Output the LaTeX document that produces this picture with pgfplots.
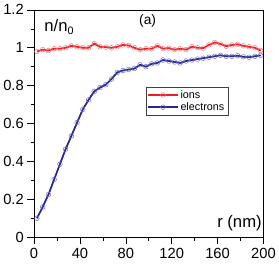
\documentclass[border=0pt]{standalone}
\usepackage{pgfplots}
\pgfplotsset{compat=1.18}
\usepackage{fontspec}
\setmainfont{Liberation Sans}
\definecolor{ionred}{RGB}{235,30,40}
\definecolor{ionmark}{RGB}{245,120,120}
\definecolor{elblue}{RGB}{40,40,145}
\definecolor{elmark}{RGB}{110,110,200}
\pgfplotstableread{
r ni ne
2.5 0.980 0.100
7.5 0.990 0.160
12.5 0.985 0.225
17.5 0.995 0.305
22.5 0.995 0.385
27.5 1.000 0.465
32.5 1.010 0.535
37.5 1.005 0.605
42.5 1.000 0.675
47.5 1.000 0.725
52.5 1.022 0.770
57.5 1.005 0.790
62.5 1.003 0.805
67.5 1.000 0.835
72.5 1.005 0.870
77.5 1.015 0.880
82.5 1.012 0.885
87.5 1.000 0.890
92.5 0.990 0.910
97.5 0.995 0.900
102.5 0.995 0.915
107.5 1.010 0.920
112.5 0.995 0.935
117.5 0.998 0.930
122.5 0.990 0.925
127.5 0.995 0.920
132.5 0.990 0.930
137.5 1.005 0.935
142.5 1.000 0.940
147.5 0.998 0.945
152.5 1.015 0.950
157.5 1.028 0.955
162.5 1.020 0.960
167.5 1.008 0.955
172.5 1.015 0.955
177.5 1.018 0.958
182.5 1.010 0.952
187.5 1.005 0.950
192.5 1.000 0.955
197.5 0.985 0.960
}\datatab
\begin{document}
\begin{tikzpicture}
\begin{axis}[
  scale only axis,
  width=233bp, height=231bp,
  xmin=0, xmax=200, ymin=0, ymax=1.2,
  xtick={0,40,...,200}, minor xtick={20,60,...,180},
  ytick={0,0.2,...,1.2}, minor ytick={0.1,0.3,...,1.1},
  yticklabels={0,0.2,0.4,0.6,0.8,1,1.2},
  xtick pos=bottom, ytick pos=left,
  tick align=outside,
  major tick length=7bp, minor tick length=3.5bp,
  every tick/.style={black, line width=0.6pt},
  axis line style={line width=0.7pt},
  tick label style={font=\fontsize{15}{17}\selectfont},
  /pgf/number format/assume math mode=true,
  xticklabel style={yshift=-1bp},
  legend style={at={(0.845,0.662)}, anchor=north east, draw=black!75,
    font=\fontsize{11}{12}\selectfont, inner sep=1.5pt, row sep=-1pt,
    legend cell align=left},
  legend image code/.code={\draw[mark repeat=2,mark phase=2] plot coordinates {(0bp,0bp) (15bp,0bp) (30bp,0bp)};},
  clip=false,
]
\addplot[ionred, line width=1.6pt, mark=o, mark size=2.4pt,
  mark options={draw=ionmark, line width=0.5pt}] table[x=r,y=ni] {\datatab};
\addlegendentry{ions}
\addplot[elblue, line width=1.6pt, mark=o, mark size=2.4pt,
  mark options={draw=elmark, line width=0.5pt}] table[x=r,y=ne] {\datatab};
\addlegendentry{electrons}
\addplot[ionred, line width=1.3pt, forget plot] table[x=r,y=ni] {\datatab};
\addplot[elblue, line width=1.3pt, forget plot] table[x=r,y=ne] {\datatab};
\node[anchor=west, font=\fontsize{17}{19}\selectfont] at (axis cs:6,1.11) {n/n\raisebox{-0.3ex}{\fontsize{11}{12}\selectfont 0}};
\node[font=\fontsize{14}{16}\selectfont] at (axis cs:99,1.14) {(a)};
\node[anchor=east, font=\fontsize{17}{19}\selectfont, inner sep=1pt] at (axis cs:199.5,0.075) {r (nm)};
\end{axis}
\path[use as bounding box] (-31bp,-29bp) rectangle (248bp,241bp);
\end{tikzpicture}
\end{document}
